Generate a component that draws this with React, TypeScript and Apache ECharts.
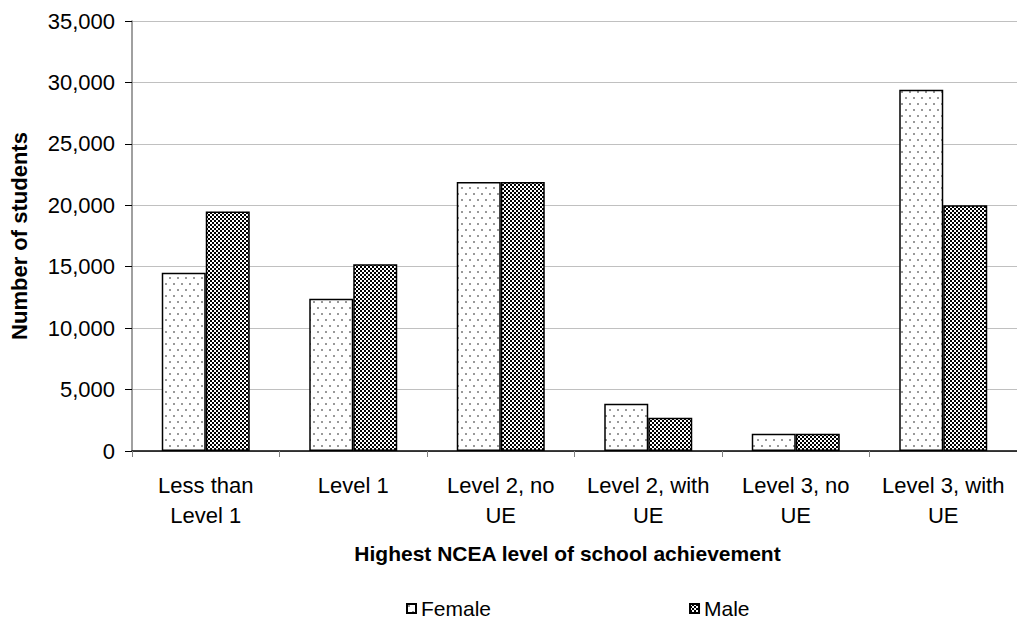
import React, { useEffect, useRef } from "react";
import * as echarts from "echarts";

const categories = [
  "Less than\nLevel 1",
  "Level 1",
  "Level 2, no\nUE",
  "Level 2, with\nUE",
  "Level 3, no\nUE",
  "Level 3, with\nUE",
];
const femaleValues = [14500, 12400, 21900, 3850, 1400, 29400];
const maleValues = [19500, 15200, 21900, 2700, 1400, 20000];
const seriesNames = ["Female", "Male"];
const yAxisTitle = "Number of students";
const xAxisTitle = "Highest NCEA level of school achievement";

const FONT = '"Liberation Sans", Arial, sans-serif';

function makeFemalePattern() {
  const c = document.createElement("canvas");
  c.width = 8;
  c.height = 12;
  const ctx = c.getContext("2d")!;
  ctx.fillStyle = "#ffffff";
  ctx.fillRect(0, 0, 8, 12);
  ctx.fillStyle = "#999999";
  ctx.fillRect(1, 1, 2, 2);
  ctx.fillRect(5, 7, 2, 2);
  return { image: c, repeat: "repeat", imageWidth: 8, imageHeight: 12 } as any;
}

function makeMalePattern() {
  const c = document.createElement("canvas");
  c.width = 4;
  c.height = 4;
  const ctx = c.getContext("2d")!;
  ctx.fillStyle = "#000000";
  ctx.fillRect(0, 0, 4, 4);
  ctx.fillStyle = "#ffffff";
  ctx.fillRect(0, 0, 2, 2);
  ctx.fillRect(2, 2, 2, 2);
  return { image: c, repeat: "repeat", imageWidth: 4, imageHeight: 4 } as any;
}

export default function App() {
  const ref = useRef<HTMLDivElement>(null);
  useEffect(() => {
    if (!ref.current) return;
    const chart = echarts.init(ref.current, null, { renderer: "svg" });
    const female = makeFemalePattern();
    const male = makeMalePattern();
    chart.setOption({
      animation: false,
      backgroundColor: "#ffffff",
      textStyle: { fontFamily: FONT },
      grid: { left: 130, top: 21, width: 896, height: 430, containLabel: false },
      legend: {
        left: 406,
        top: 598,
        padding: 0,
        itemWidth: 9,
        itemHeight: 9,
        itemGap: 198,
        icon: "rect",
        textStyle: { fontFamily: FONT, fontSize: 21, color: "#000" },
        data: seriesNames,
      },
      xAxis: {
        type: "category",
        data: categories,
        axisLine: { lineStyle: { color: "#000", width: 1.5 } },
        axisTick: { show: true, length: 6, lineStyle: { color: "#808080" } },
        axisLabel: {
          interval: 0,
          fontFamily: FONT,
          fontSize: 22,
          lineHeight: 30,
          color: "#000",
          margin: 19,
        },
        name: xAxisTitle,
        nameLocation: "middle",
        nameGap: 92,
        nameTextStyle: {
          fontFamily: FONT,
          fontSize: 21,
          fontWeight: "bold",
          color: "#000",
          padding: [0, 14, 0, 0],
        },
      },
      yAxis: {
        type: "value",
        min: 0,
        max: 35000,
        interval: 5000,
        axisLine: { show: true, lineStyle: { color: "#808080", width: 1.5 } },
        axisTick: { show: true, length: 7, lineStyle: { color: "#000" } },
        splitLine: { lineStyle: { color: "#c0c0c0", width: 1 } },
        axisLabel: {
          fontFamily: FONT,
          fontSize: 22,
          color: "#000",
          margin: 17,
          formatter: (v: number) => v.toLocaleString("en-US"),
        },
        name: yAxisTitle,
        nameLocation: "middle",
        nameGap: 102,
        nameTextStyle: { fontFamily: FONT, fontSize: 22, fontWeight: "bold", color: "#000" },
      },
      series: [
        {
          name: seriesNames[0],
          type: "bar",
          data: femaleValues,
          barWidth: 44,
          barGap: "0%",
          itemStyle: { color: female, borderColor: "#000", borderWidth: 1.5 },
        },
        {
          name: seriesNames[1],
          type: "bar",
          data: maleValues,
          barWidth: 44,
          barGap: "0%",
          itemStyle: { color: male, borderColor: "#000", borderWidth: 1.5 },
        },
      ],
    });
    return () => chart.dispose();
  }, []);
  return (
    <div
      ref={ref}
      style={{ position: "fixed", left: 0, top: 0, width: 1017, height: 622, background: "#fff" }}
    />
  );
}
